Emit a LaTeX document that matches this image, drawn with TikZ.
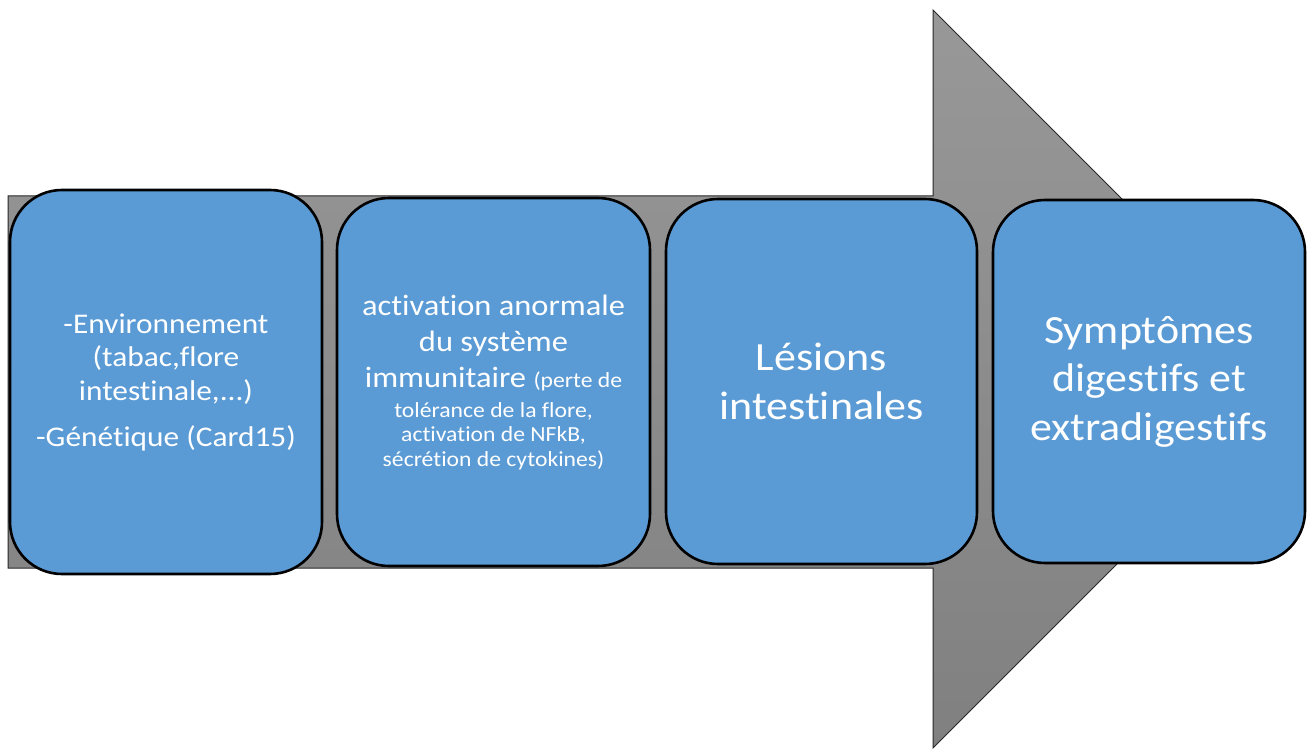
\documentclass[tikz,border=0pt]{standalone}
\usepackage{fontspec}
\setmainfont{Carlito}[FakeStretch=1.1, Ligatures=NoCommon]
\definecolor{boxblue}{RGB}{91,155,213}
\definecolor{arrtop}{RGB}{152,152,152}
\definecolor{arrbot}{RGB}{128,128,128}
\definecolor{arredge}{RGB}{40,40,40}
\newcommand\myfs[2]{\fontsize{#1}{#2}\selectfont\spaceskip=0.25em\relax}
\begin{document}
\begin{tikzpicture}[x=1pt,y=-1pt,
  stage/.style={draw=black, line width=2.6pt, fill=boxblue, rounded corners=52pt,
    text=white, align=center, inner sep=0pt},
  bigarrow/.style={draw=arredge, line width=1pt, top color=arrtop, bottom color=arrbot}]
\useasboundingbox (0,0) rectangle (1311,751);
% big background arrow
\path[bigarrow] (8,196) -- (933,196) -- (933,10) -- (1302,379) -- (933,748) -- (933,568) -- (8,568) -- cycle;
% stage boxes
\node[stage, minimum width=312pt, minimum height=384pt, text width=304pt] (b1) at (166,382)
  {\myfs{28.5}{33.5}-Environnement\par (tabac,flore\par intestinale,...)\par\vspace{12.5pt}-Génétique (Card15)\par};
\node[stage, minimum width=313pt, minimum height=368pt, text width=304pt] (b2) at (493.5,382)
  {{\myfs{29.5}{36}activation anormale\par du système\par immunitaire {\myfs{21.5}{24.5}(perte de}\par}%
   \vspace{5.5pt}%
   {\myfs{21.5}{24.5}tolérance de la flore,\par activation de NFkB,\par sécrétion de cytokines)\par}};
\node[stage, minimum width=311pt, minimum height=365pt, text width=304pt] (b3) at (821.5,381.5)
  {\myfs{40}{49}Lésions\par intestinales\par};
\node[stage, minimum width=312pt, minimum height=363pt, text width=304pt] (b4) at (1149,381.5)
  {\myfs{40}{48.5}Symptômes\par digestifs et\par extradigestifs\par};
\end{tikzpicture}
\end{document}
